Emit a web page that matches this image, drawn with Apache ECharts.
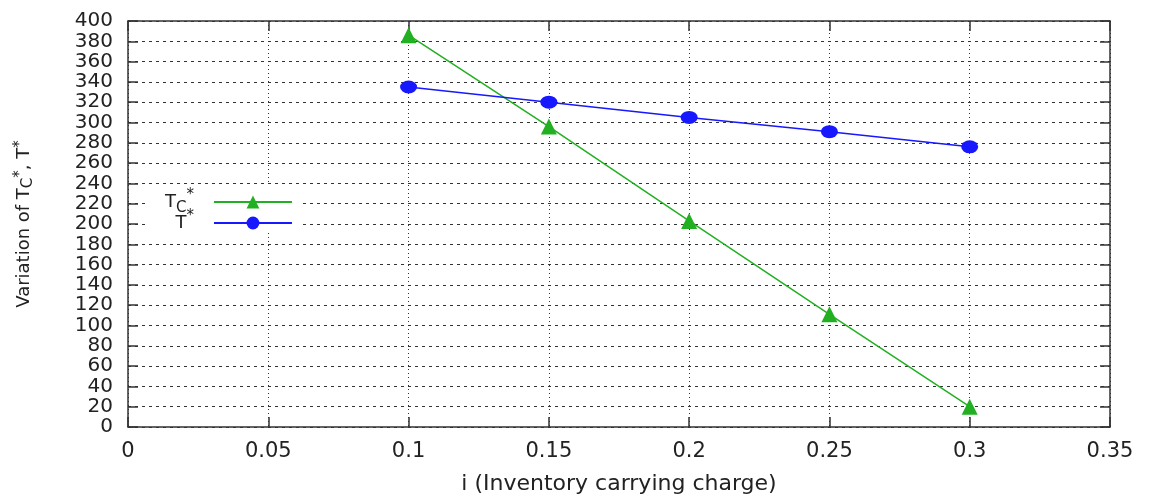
<!DOCTYPE html>
<html><head><meta charset="utf-8">
<script src="https://cdn.jsdelivr.net/npm/echarts@6/dist/echarts.min.js"></script>
<style>html,body{margin:0;padding:0;background:#fff}#c{width:1152px;height:497px}</style>
</head><body><div id="c"></div>
<script>
const xValues = [0.1, 0.15, 0.2, 0.25, 0.3];
const tcStar = [386, 296, 203, 111, 20];
const tStar = [335, 320, 305, 291, 276];
const seriesNames = ['TC*', 'T*'];

const chart = echarts.init(document.getElementById('c'));
const axisCol = '#333';
const txt = '#222';
const gridLineH = {show: true, lineStyle: {color: '#333', type: [3, 4], width: 1}};
const gridLineV = {show: true, lineStyle: {color: '#333', type: [1, 3], width: 1}};
const fmtX = v => String(+v.toFixed(2));
const axLine = {show: true, onZero: false, lineStyle: {color: axisCol, width: 1.5}};
const axTick = {show: true, inside: true, length: 10, lineStyle: {color: axisCol, width: 1.5}};

chart.setOption({
  animation: false,
  backgroundColor: '#fff',
  grid: {left: 128, right: 42, top: 21, bottom: 70, outerBoundsMode: 'none', containLabel: false},
  legend: {
    left: 147, top: 185, orient: 'vertical', align: 'right',
    itemWidth: 78, itemHeight: 16, itemGap: -7,
    backgroundColor: '#fff', padding: [3, 8, 0, 18],
    data: seriesNames,
    formatter: n => n === 'TC*' ? '{b|T}{s|C}{p|*}{e| }' : '{b|T}{p|*}{e| }',
    textStyle: {
      color: txt, fontFamily: 'DejaVu Sans', fontSize: 18,
      rich: {
        b: {fontSize: 18, fontFamily: 'DejaVu Sans', color: txt, lineHeight: 28},
        s: {fontSize: 15, fontFamily: 'DejaVu Sans', color: txt, verticalAlign: 'bottom', padding: [13, 0, 0, 0]},
        p: {fontSize: 15, fontFamily: 'DejaVu Sans', color: txt, verticalAlign: 'top', padding: [0, 0, 10, 0]},
        e: {width: 15, lineHeight: 28}
      }
    }
  },
  xAxis: [{
    type: 'value', min: 0, max: 0.35, interval: 0.05,
    name: 'i (Inventory carrying charge)', nameLocation: 'middle', nameGap: 46,
    nameTextStyle: {fontFamily: 'DejaVu Sans', fontSize: 22, color: txt},
    axisLine: axLine, axisTick: axTick,
    axisLabel: {fontFamily: 'DejaVu Sans', fontSize: 21, color: txt, margin: 14, formatter: fmtX, showMinLabel: true, showMaxLabel: true},
    splitLine: gridLineV
  }, {
    type: 'value', min: 0, max: 0.35, interval: 0.05, position: 'top',
    axisLine: axLine, axisTick: axTick,
    axisLabel: {show: false}, splitLine: {show: false}
  }],
  yAxis: [{
    type: 'value', min: 0, max: 400, interval: 20,
    name: '{b|Variation of T}{s|C}{p|*}{b|, T}{p|*}', nameLocation: 'middle', nameGap: 92,
    nameTextStyle: {
      fontFamily: 'DejaVu Sans', fontSize: 18, color: txt,
      rich: {
        b: {fontFamily: 'DejaVu Sans', fontSize: 18, color: txt},
        s: {fontFamily: 'DejaVu Sans', fontSize: 15, color: txt, verticalAlign: 'bottom', padding: [8, 0, 0, 0]},
        p: {fontFamily: 'DejaVu Sans', fontSize: 15, color: txt, verticalAlign: 'top', padding: [0, 0, 8, 0]}
      }
    },
    axisLine: axLine, axisTick: axTick,
    axisLabel: {fontFamily: 'DejaVu Sans', fontSize: 20, lineHeight: 20, color: txt, margin: 15, showMinLabel: true, showMaxLabel: true, hideOverlap: false},
    splitLine: gridLineH
  }, {
    type: 'value', min: 0, max: 400, interval: 20, position: 'right',
    axisLine: axLine, axisTick: axTick,
    axisLabel: {show: false}, splitLine: {show: false}
  }],
  series: [{
    name: seriesNames[0], type: 'line',
    data: xValues.map((x, i) => [x, tcStar[i]]),
    symbol: 'triangle', symbolSize: 16,
    lineStyle: {color: '#22b022', width: 1.5},
    itemStyle: {color: '#22b022'}
  }, {
    name: seriesNames[1], type: 'line',
    data: xValues.map((x, i) => [x, tStar[i]]),
    symbol: 'circle', symbolSize: [17, 13],
    lineStyle: {color: '#1818ff', width: 1.5},
    itemStyle: {color: '#1818ff'}
  }]
});
</script></body></html>
